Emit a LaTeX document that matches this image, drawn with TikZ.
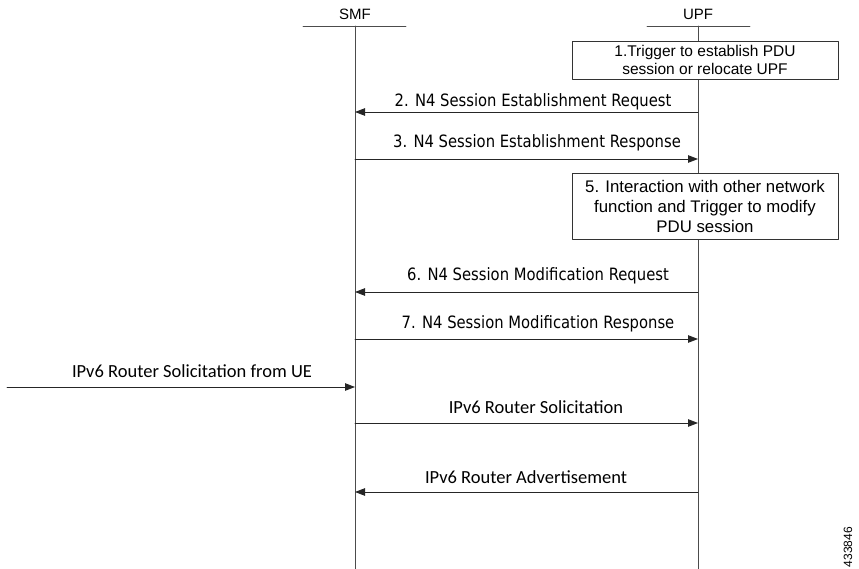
\documentclass[tikz,border=0pt]{standalone}
\usepackage{fontspec}
\setmainfont{Liberation Sans}
\newfontfamily\msgfont[FakeStretch=0.87]{DejaVu Sans}
\newfontfamily\ipfont{Carlito}
\usetikzlibrary{arrows.meta}
\usetikzlibrary{positioning}

\tikzset{
  hdr/.style={font=\fontsize{15}{18}\selectfont, inner sep=0pt},
  lifeline/.style={draw=black!70, line width=0.9pt},
  stepbox/.style={draw=black!80, fill=white, line width=0.9pt, align=center,
    font=\fontsize{15.5}{18.5}\selectfont, inner sep=0pt},
  msg/.style={->, draw=black!85, line width=0.9pt},
  msglabel/.style={anchor=base, inner sep=0pt, font=\msgfont\fontsize{17}{20}\selectfont},
  iplabel/.style={anchor=base, inner sep=0pt, font=\ipfont\fontsize{18.5}{22}\selectfont}
}

\begin{document}
\begin{tikzpicture}[line cap=round,line join=round,>={Triangle[length=10pt,width=7.5pt]},x=1pt,y=-1pt]
\useasboundingbox (0,0) rectangle (859,569);
% heads of the lifelines
\node[hdr] (smf) at (355,14) {SMF};
\node[hdr] (upf) at (698,14) {UPF};
\draw[lifeline] (303,26) -- (406,26);
\draw[lifeline] (647,26) -- (750,26);
\coordinate (smftop) at (355,26);
\coordinate (smfbot) at (355,569);
\coordinate (upftop) at (698,26);
\coordinate (upfbot) at (698,569);
\draw[lifeline] (smftop) -- (smfbot);
\draw[lifeline] (upftop) -- (upfbot);
% trigger boxes on UPF
\node[stepbox, minimum width=266pt, minimum height=38pt] (trig) at (705,60)
  {1.Trigger to establish PDU\\session or relocate UPF};
\node[stepbox, minimum width=266pt, minimum height=66pt, font=\fontsize{16.8}{20}\selectfont] (inter) at (705,206)
  {5. Interaction with other network\\function and Trigger to modify\\PDU session};
% end points of the messages
\coordinate (s2) at (355,112); \coordinate (u2) at (698,112);
\coordinate (s3) at (355,159); \coordinate (u3) at (698,159);
\coordinate (s6) at (355,292); \coordinate (u6) at (698,292);
\coordinate (s7) at (355,339); \coordinate (u7) at (698,339);
\coordinate (ue) at (7,387);   \coordinate (sue) at (355,387);
\coordinate (s9) at (355,423); \coordinate (u9) at (698,423);
\coordinate (s10) at (355,492); \coordinate (u10) at (698,492);
% messages
\draw[msg] (u2) -- (s2);
\draw[msg] (s3) -- (u3);
\draw[msg] (u6) -- (s6);
\draw[msg] (s7) -- (u7);
\draw[msg] (ue) -- (sue);
\draw[msg] (s9) -- (u9);
\draw[msg] (u10) -- (s10);
\node[msglabel] (l2) at (533,107) {2. N4 Session Establishment Request};
\node[msglabel] (l3) at (537,148) {3. N4 Session Establishment Response};
\node[msglabel] (l6) at (538,280) {6. N4 Session Modification Request};
\node[msglabel] (l7) at (538,328) {7. N4 Session Modification Response};
\node[iplabel] (lue) at (192,377) {IPv6 Router Solicitation from UE};
\node[iplabel] (l9) at (536,413) {IPv6 Router Solicitation};
\node[iplabel] (l10) at (526,483) {IPv6 Router Advertisement};
% figure number
\node[rotate=90, inner sep=0pt, font=\fontsize{12}{14}\selectfont] (fig) at (848,547) {433846};
\end{tikzpicture}
\end{document}
